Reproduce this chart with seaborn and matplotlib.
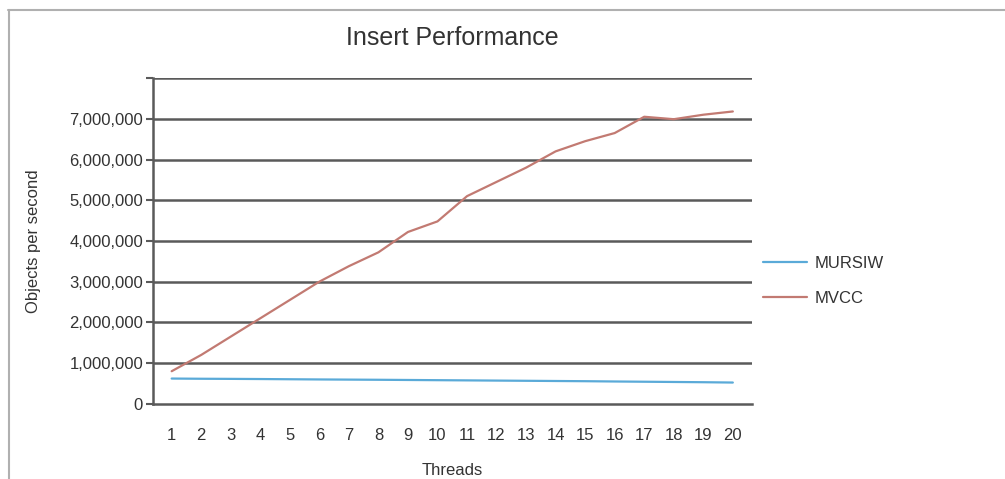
import pandas as pd
import matplotlib
matplotlib.use("Agg")
import matplotlib.pyplot as plt
import seaborn as sns
from matplotlib.lines import Line2D
from matplotlib.ticker import FuncFormatter

# data
threads = list(range(1, 21))
mursiw = [620000, 615000, 612000, 608000, 603000, 598000, 594000, 590000, 585000, 580000,
          575000, 570000, 565000, 560000, 555000, 548000, 542000, 536000, 530000, 522000]
mvcc = [800000, 1200000, 1650000, 2100000, 2550000, 3000000, 3380000, 3720000, 4220000, 4480000,
        5100000, 5450000, 5800000, 6200000, 6450000, 6650000, 7050000, 6990000, 7100000, 7180000]
series_names = ["MURSIW", "MVCC"]
y_ticks = [0, 1000000, 2000000, 3000000, 4000000, 5000000, 6000000, 7000000, 8000000]

df = pd.DataFrame({
    "Threads": threads * 2,
    "value": mursiw + mvcc,
    "series": [series_names[0]] * len(threads) + [series_names[1]] * len(threads),
})

sns.set_style("white")
plt.rcParams['font.family'] = ['Liberation Sans Narrow', 'Liberation Sans', 'DejaVu Sans']

fig = plt.figure(figsize=(10.05, 4.79), dpi=100)
ax = fig.add_axes([0.152, 0.157, 0.596, 0.68])

grid_col = "#5a5a5a"
for v in y_ticks[1:]:
    ax.axhline(v, color=grid_col, lw=1.8, zorder=1)

sns.lineplot(data=df, x="Threads", y="value", hue="series",
             palette={"MURSIW": "#5aaad8", "MVCC": "#c27a72"},
             lw=1.6, ax=ax, legend=False, zorder=3)

ax.set_xlim(0.36, 20.64)
ax.set_ylim(0, 8000000)
ax.set_xticks(threads)
ax.set_yticks(y_ticks)
ax.yaxis.set_major_formatter(FuncFormatter(lambda v, p: "" if v == 8000000 else f"{int(v):,}"))

for s in ["top", "right"]:
    ax.spines[s].set_visible(False)
for s in ["left", "bottom"]:
    ax.spines[s].set_color(grid_col)
    ax.spines[s].set_linewidth(1.8)

ax.tick_params(axis="y", left=True, length=5, width=1.5, color=grid_col,
               labelsize=12, labelcolor="#333333", pad=2)
ax.tick_params(axis="x", bottom=False, labelsize=12, labelcolor="#333333", pad=14)

ax.set_xlabel("Threads", fontsize=12, color="#333333", labelpad=14)
ax.set_ylabel("Objects per second", fontsize=12, color="#333333", labelpad=20)
ax.set_title("Insert Performance", fontsize=18, color="#333333", pad=24)

handles = [Line2D([], [], color="#5aaad8", lw=1.6), Line2D([], [], color="#c27a72", lw=1.6)]
ax.legend(handles, series_names, loc="center left", bbox_to_anchor=(1.0, 0.377),
          frameon=False, fontsize=12, handlelength=2.6, handletextpad=0.5,
          labelspacing=1.2, borderaxespad=0.3, labelcolor="#333333")

# light frame around the picture (top and left edges only)
fig.add_artist(Line2D([0.008, 1.0], [0.979, 0.979], transform=fig.transFigure,
                      color="#b0b0b0", lw=1.5))
fig.add_artist(Line2D([0.009, 0.009], [0.0, 0.979], transform=fig.transFigure,
                      color="#b0b0b0", lw=1.5))

fig.savefig("out.png", dpi=100, facecolor="white")
